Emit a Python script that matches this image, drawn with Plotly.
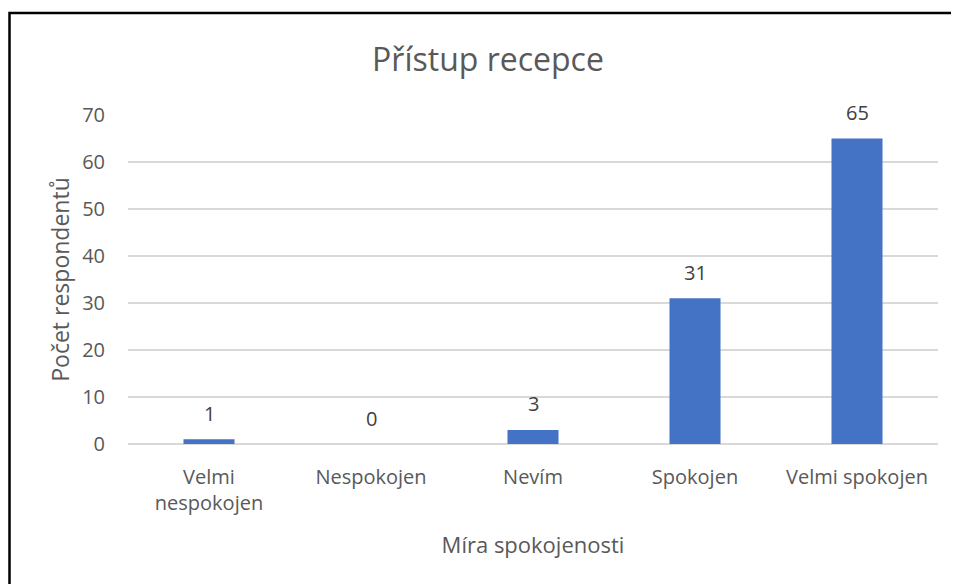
import plotly.graph_objects as go

categories = ["Velmi<br>nespokojen", "Nespokojen", "Nevím", "Spokojen", "Velmi spokojen"]
values = [1, 0, 3, 31, 65]
y_ticks = [0, 10, 20, 30, 40, 50, 60, 70]

OFF = 8  # page body offset
W, H = 959, 584
L, T = 128 - OFF, 115 - OFF
pw, ph = 810, 329
R, B = W - L - pw, H - T - ph

def loc_x(x):  # figure-local px -> paper
    return (x - L) / pw

def loc_y(y):
    return (T + ph - y) / ph

font_fam = "Open Sans, Noto Sans, sans-serif"
txt_col = "#595959"

fig = go.Figure(go.Bar(
    x=categories, y=values,
    marker=dict(color="#4472C4", line=dict(width=0)),
    cliponaxis=False,
))

annotations = [
    dict(x=c, y=v, xref="x", yref="y", text=str(v), showarrow=False,
         yanchor="middle", yshift=26, font=dict(size=20, color="#404040", family=font_fam))
    for c, v in zip(categories, values)
]

fig.update_layout(
    width=W, height=H,
    margin=dict(l=L, r=R, t=T, b=B, autoexpand=False),
    paper_bgcolor="white", plot_bgcolor="white",
    bargap=0.685,
    showlegend=False,
    title=dict(text="Přístup recepce", x=(488 - OFF) / W, xref="container", xanchor="center",
               y=1 - (60 - OFF) / H, yanchor="middle",
               font=dict(size=32, color=txt_col, family=font_fam)),
    font=dict(family=font_fam, color=txt_col, size=20),
    xaxis=dict(
        showgrid=False, showline=False, zeroline=False, ticks="",
        tickfont=dict(size=20, color=txt_col), ticklabelstandoff=19,
        title=dict(text="Míra spokojenosti", font=dict(size=22, color=txt_col), standoff=22),
    ),
    yaxis=dict(
        range=[0, 70], tickvals=y_ticks, showgrid=True, gridcolor="#d9d9d9", gridwidth=1.5,
        zeroline=True, zerolinecolor="#d9d9d9", zerolinewidth=1.5, showline=False, ticks="",
        tickfont=dict(size=20, color=txt_col), ticklabelstandoff=22,
        title=dict(text="Počet respondentů", font=dict(size=23, color=txt_col), standoff=6),
    ),
    annotations=annotations,
    shapes=[dict(type="rect", xref="paper", yref="paper",
                 x0=loc_x(1.5), x1=loc_x(W + 20), y0=loc_y(H + 20), y1=loc_y(13 - OFF),
                 line=dict(color="black", width=2.5), fillcolor="rgba(0,0,0,0)", layer="above")],
)

fig.write_html("out.html")
